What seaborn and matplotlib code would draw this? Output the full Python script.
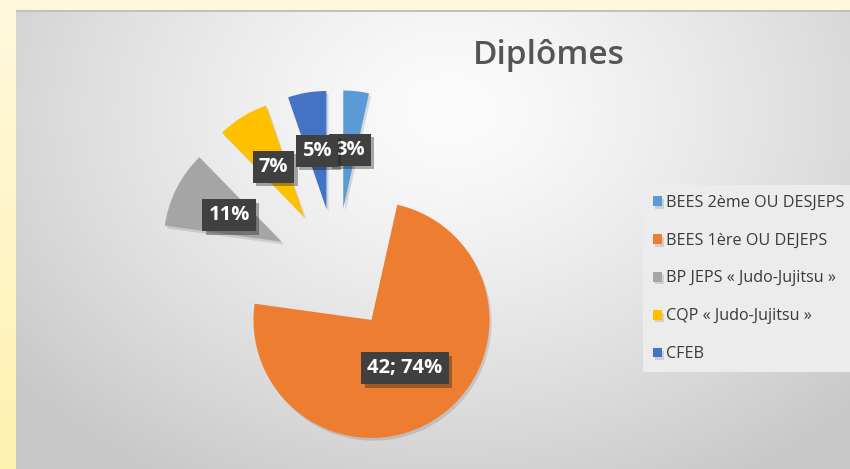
"""
Diplômes - exploded pie chart recreated with seaborn / matplotlib
"""

import numpy as np
import matplotlib
matplotlib.use("Agg")
import matplotlib.pyplot as plt
import matplotlib.patheffects as pe
import seaborn as sns

# Data
categories = ["BEES 2ème OU DESJEPS", "BEES 1ère OU DEJEPS",
              "BP JEPS « Judo-Jujitsu »", "CQP « Judo-Jujitsu »", "CFEB"]
counts = [2, 42, 6, 4, 3]
value_labels = ["3%", "42; 74%", "11%", "7%", "5%"]
colors = ["#5B9BD5", "#ED7D31", "#A5A5A5", "#FFC000", "#4472C4"]

sns.set_theme(style="white")
plt.rcParams["font.family"] = ["Open Sans", "DejaVu Sans"]

W, H = 850, 469
fig = plt.figure(figsize=(W / 100, H / 100), dpi=100)

# Background: cream frame + grey radial gradient panel
yy, xx = np.mgrid[0:H, 0:W]
bg = np.zeros((H, W, 3))
cream_top = np.array([255, 248, 222]) / 255
cream_bot = np.array([255, 241, 176]) / 255
t = (yy / H)[..., None]
bg[:] = cream_top * (1 - t) + cream_bot * t
d = np.sqrt(((xx - 450) / 560.0) ** 2 + ((yy - 110) / 430.0) ** 2)
g = 252 - 52 * np.clip(d, 0, 1) ** 1.3
panel = (xx >= 16) & (yy >= 10)
for c in range(3):
    bg[..., c] = np.where(panel, g / 255, bg[..., c])
edge = panel & (yy < 12)
bg[edge] = np.array([192, 192, 192]) / 255
bg_ax = fig.add_axes([0, 0, 1, 1])
bg_ax.imshow(bg, aspect="auto", interpolation="bilinear")
bg_ax.axis("off")

# Pie axes: 118 px per unit, pie centre at pixel (336.5, 269.5)
scale = 118.0
cx, cy = 336.5, 269.5
ax = fig.add_axes([0, 0, 1, 1])
ax.patch.set_alpha(0)
wedges, _ = ax.pie(counts, colors=colors, startangle=90, counterclock=False,
                   explode=[0.52] * len(counts), radius=1.0,
                   wedgeprops=dict(linewidth=0))
for w in wedges:
    w.set_path_effects([pe.SimplePatchShadow(offset=(1.5, -2), alpha=0.15),
                        pe.Normal()])
ax.set_xlim(-cx / scale, (W - cx) / scale)
ax.set_ylim(-(H - cy) / scale, cy / scale)
ax.set_aspect("auto")
ax.axis("off")

# Data labels in dark boxes
for w, lab in zip(wedges, value_labels):
    mid = np.deg2rad((w.theta1 + w.theta2) / 2)
    x0, y0 = w.center
    px = x0 + 0.5 * w.r * np.cos(mid)
    py = y0 + 0.5 * w.r * np.sin(mid)
    txt = ax.text(px, py, lab, ha="center", va="center", color="white",
                  fontsize=14.5, fontweight="bold",
                  bbox=dict(boxstyle="square,pad=0.3", fc="#404040", ec="none"))
    txt.get_bbox_patch().set_path_effects(
        [pe.SimplePatchShadow(offset=(2.5, -2.5), alpha=0.35), pe.Normal()])

# Title
fig.text(549 / W, 1 - 55 / H, "Diplômes", ha="center", va="center",
         fontsize=24, fontweight="semibold", color="#555555")

# Legend
leg = fig.legend(wedges, categories, loc="upper left", mode="expand",
                 bbox_to_anchor=(643 / W, 1 - 366 / H, (W - 630) / W, 181 / H),
                 frameon=True, fancybox=False, facecolor="#ececec",
                 edgecolor="none", framealpha=1.0, fontsize=11.6,
                 labelspacing=1.36, handlelength=0.55, handleheight=0.55,
                 handletextpad=0.25, borderpad=0.6, borderaxespad=0)
for text in leg.get_texts():
    text.set_color("#3a3a3a")

fig.savefig("out.png", dpi=100)
